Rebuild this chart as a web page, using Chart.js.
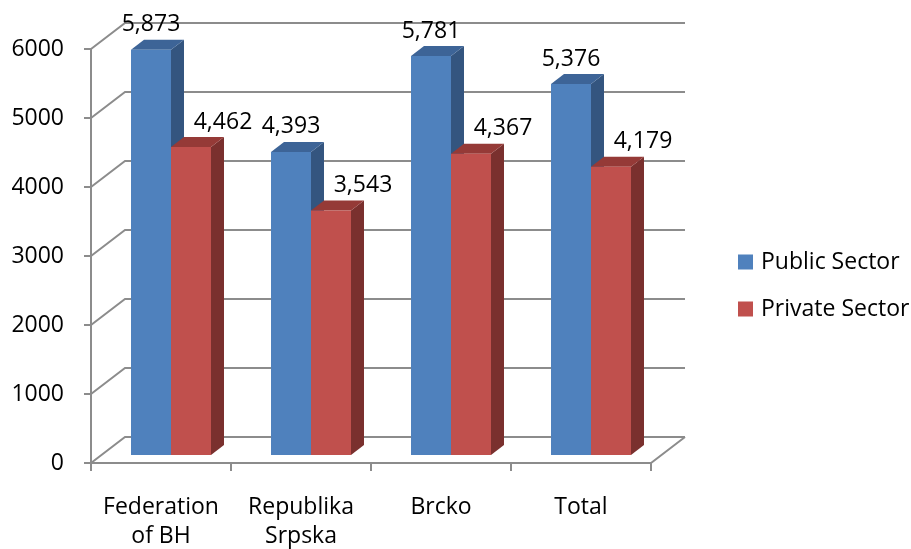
<!DOCTYPE html>
<html>
<head>
<meta charset="utf-8">
<script src="https://cdn.jsdelivr.net/npm/chart.js@4/dist/chart.umd.min.js"></script>
<style>
  html, body { margin: 0; padding: 0; background: #ffffff; }
  #wrap { width: 911px; height: 549px; }
</style>
</head>
<body>
<div id="wrap"><canvas id="chart" width="911" height="549"></canvas></div>
<script>
// Average wage by entity, public vs private sector
const categories = [["Federation", "of BH"], ["Republika", "Srpska"], "Brcko", "Total"];
const publicSector = [5873, 4393, 5781, 5376];
const privateSector = [4462, 3543, 4367, 4179];
const seriesNames = ["Public Sector", "Private Sector"];
const yTicks = [0, 1000, 2000, 3000, 4000, 5000, 6000];

const FONT = "'Open Sans', 'Liberation Sans', sans-serif";
const FONT_SIZE = 23;

// oblique projection used for the frame and the bar bodies
const FRONT = { dx: -10, dy: 8 };   // front plane relative to bar faces
const BACK = { dx: 24, dy: -18 };   // back wall relative to bar faces
const DEPTH = { dx: 13, dy: 10 };   // bar body depth
const GRID = "#8c8c8c";

const shades = [
  { front: "#4f81bd", side: "#34557f", top: "#3d6497" },
  { front: "#c0504d", side: "#7a302e", top: "#953a37" }
];
const labelShift = [0, 32];

const frame3d = {
  id: "frame3d",
  beforeDatasetsDraw(chart) {
    const { ctx, chartArea: ca, scales: { x, y } } = chart;
    ctx.save();
    ctx.strokeStyle = GRID;
    ctx.lineWidth = 2;
    ctx.lineCap = "butt";
    const fl = ca.left + FRONT.dx, fr = ca.right + FRONT.dx;
    const bl = ca.left + BACK.dx, br = ca.right + BACK.dx;
    // wall gridlines: diagonal on the side wall, horizontal on the back wall
    yTicks.forEach(v => {
      const p = y.getPixelForValue(v);
      ctx.beginPath();
      ctx.moveTo(fl, p + FRONT.dy);
      ctx.lineTo(bl, p + BACK.dy);
      ctx.lineTo(br, p + BACK.dy);
      ctx.stroke();
    });
    // floor front edge and right edge
    const f0 = y.getPixelForValue(0) + FRONT.dy;
    const b0 = y.getPixelForValue(0) + BACK.dy;
    ctx.beginPath();
    ctx.moveTo(fl, f0);
    ctx.lineTo(fr, f0);
    ctx.lineTo(br, b0);
    ctx.stroke();
    // value axis with tick marks
    const ftop = y.getPixelForValue(yTicks[yTicks.length - 1]) + FRONT.dy;
    ctx.beginPath();
    ctx.moveTo(fl, ftop);
    ctx.lineTo(fl, f0 + 8);
    yTicks.forEach(v => {
      const p = y.getPixelForValue(v) + FRONT.dy;
      ctx.moveTo(fl - 7, p);
      ctx.lineTo(fl, p);
    });
    // category tick marks at the category boundaries
    const step = (ca.right - ca.left) / categories.length;
    for (let i = 0; i <= categories.length; i++) {
      const px = ca.left + i * step + FRONT.dx;
      ctx.moveTo(px, f0);
      ctx.lineTo(px, f0 + 8);
    }
    ctx.stroke();

    // bar bodies: side and top faces, drawn before the front faces
    chart.data.datasets.forEach((ds, di) => {
      const meta = chart.getDatasetMeta(di);
      meta.data.forEach(bar => {
        const { x: bx, y: by, base, width } = bar.getProps(["x", "y", "base", "width"], true);
        const l = bx - width / 2, r = bx + width / 2;
        ctx.fillStyle = shades[di].side;
        ctx.beginPath();
        ctx.moveTo(r, by);
        ctx.lineTo(r + DEPTH.dx, by - DEPTH.dy);
        ctx.lineTo(r + DEPTH.dx, base - DEPTH.dy);
        ctx.lineTo(r, base);
        ctx.closePath();
        ctx.fill();
        ctx.fillStyle = shades[di].top;
        ctx.beginPath();
        ctx.moveTo(l, by);
        ctx.lineTo(l + DEPTH.dx, by - DEPTH.dy);
        ctx.lineTo(r + DEPTH.dx, by - DEPTH.dy);
        ctx.lineTo(r, by);
        ctx.closePath();
        ctx.fill();
      });
    });
    ctx.restore();
  },
  afterDatasetsDraw(chart) {
    const { ctx } = chart;
    ctx.save();
    ctx.font = FONT_SIZE + "px " + FONT;
    ctx.fillStyle = "#000000";
    ctx.textAlign = "center";
    ctx.textBaseline = "middle";
    chart.data.datasets.forEach((ds, di) => {
      const meta = chart.getDatasetMeta(di);
      meta.data.forEach((bar, i) => {
        const { x: bx, y: by } = bar.getProps(["x", "y"], true);
        ctx.fillText(ds.data[i].toLocaleString("en-US"), bx + labelShift[di], by - 25);
      });
    });
    ctx.restore();
  },
  afterDraw(chart) {
    // legend on the right
    const { ctx } = chart;
    ctx.save();
    ctx.font = FONT_SIZE + "px " + FONT;
    ctx.textAlign = "left";
    ctx.textBaseline = "middle";
    chart.data.datasets.forEach((ds, di) => {
      const cy = 262 + di * 47;
      ctx.fillStyle = ds.backgroundColor;
      ctx.fillRect(738, cy - 7.5, 15, 15);
      ctx.fillStyle = "#000000";
      ctx.fillText(ds.label, 761, cy);
    });
    ctx.restore();
  }
};

new Chart(document.getElementById("chart"), {
  type: "bar",
  data: {
    labels: categories,
    datasets: [
      { label: seriesNames[0], data: publicSector, backgroundColor: shades[0].front, borderWidth: 0 },
      { label: seriesNames[1], data: privateSector, backgroundColor: shades[1].front, borderWidth: 0 }
    ]
  },
  options: {
    responsive: false,
    animation: false,
    events: [],
    layout: { padding: { left: 0, top: 41, right: 250, bottom: 0 } },
    datasets: { bar: { categoryPercentage: 80 / 140, barPercentage: 1.0 } },
    plugins: { legend: { display: false }, tooltip: { enabled: false } },
    scales: {
      x: {
        grid: { display: false, drawTicks: true, tickLength: 38 },
        border: { display: false },
        ticks: {
          color: "#000000",
          font: { family: FONT, size: FONT_SIZE, lineHeight: 29 / FONT_SIZE },
          padding: 0,
          labelOffset: FRONT.dx,
          maxRotation: 0,
          autoSkip: false
        },
        afterFit(scale) { scale.height = 94; }
      },
      y: {
        min: 0,
        max: 6000,
        grid: { display: false, drawTicks: true, tickLength: 37 },
        border: { display: false },
        afterBuildTicks(scale) { scale.ticks = yTicks.map(v => ({ value: v })); },
        ticks: {
          color: "#000000",
          font: { family: FONT, size: FONT_SIZE },
          padding: 0,
          labelOffset: FRONT.dy,
          callback: v => String(v)
        },
        afterFit(scale) { scale.width = 101; }
      }
    }
  },
  plugins: [frame3d]
});
</script>
</body>
</html>
